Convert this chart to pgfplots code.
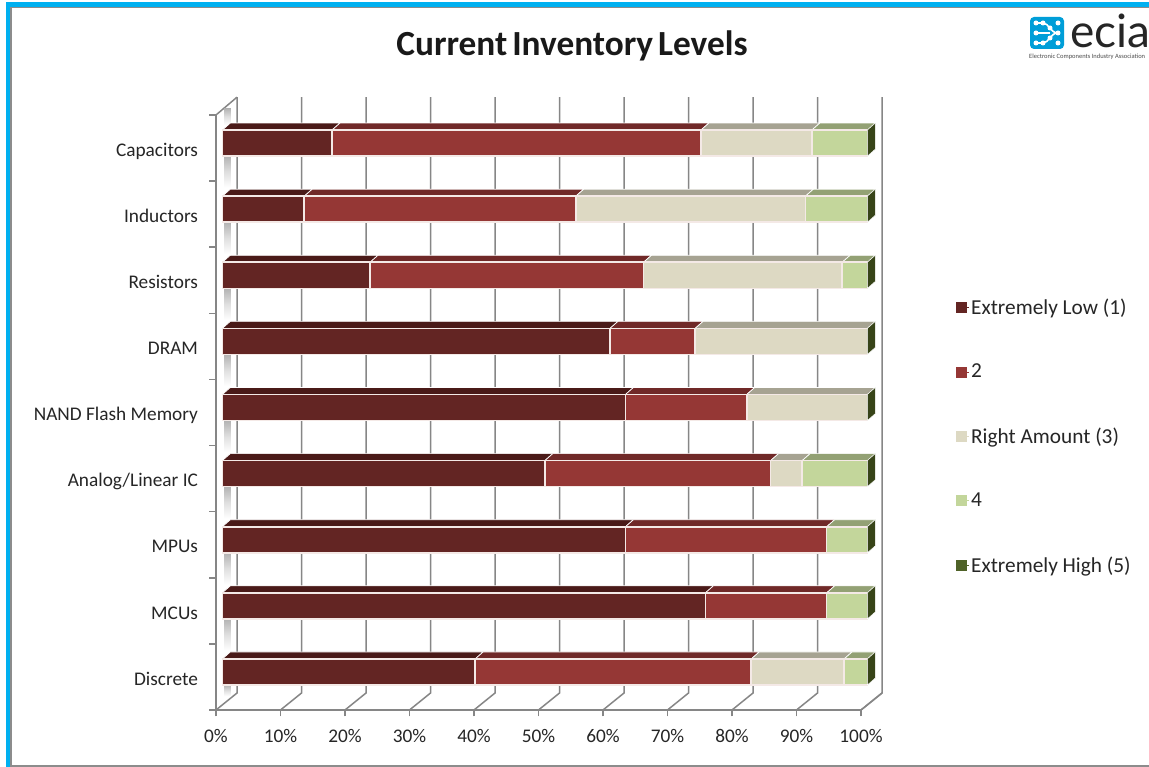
\documentclass[border=0pt]{standalone}
\usepackage{fontspec}
\usepackage{pgfplots}
\pgfplotsset{compat=1.18}
\setmainfont{Carlito}
\newfontfamily\logofont{Lato}

\definecolor{lowface}{HTML}{632523}
\definecolor{lowtop}{HTML}{4A1A18}
\definecolor{twoface}{HTML}{953735}
\definecolor{twotop}{HTML}{702928}
\definecolor{midface}{HTML}{DDD9C3}
\definecolor{midtop}{HTML}{A6A392}
\definecolor{fourface}{HTML}{C3D69B}
\definecolor{fourtop}{HTML}{93A174}
\definecolor{highface}{HTML}{4F6228}
\definecolor{highside}{HTML}{374418}
\definecolor{wallgray}{HTML}{868686}
\definecolor{framegray}{HTML}{8C8C8C}
\definecolor{frameblue}{HTML}{00B0F0}
\definecolor{edgelight}{HTML}{F4E9E6}

% bar geometry in axis units: 6.45 px per percent, 66.1 px per category
\newcommand{\barx}{0.98}
\newcommand{\barlow}{-0.122}
\newcommand{\barhigh}{0.272}
\newcommand{\depthx}{1.24}
\newcommand{\depthy}{0.106}

% one stacked segment: row, start, end, front colour, top colour
\newcommand{\segment}[5]{%
  \pgfmathsetmacro{\xa}{#2+\barx}%
  \pgfmathsetmacro{\xb}{#3+\barx}%
  \pgfmathsetmacro{\xc}{\xa+\depthx}%
  \pgfmathsetmacro{\xd}{\xb+\depthx}%
  \pgfmathsetmacro{\ya}{#1+\barlow}%
  \pgfmathsetmacro{\yb}{#1+\barhigh}%
  \pgfmathsetmacro{\yc}{\yb+\depthy}%
  \addplot[forget plot,fill=#5,draw=white,line width=0.7pt] coordinates {(\xa,\yb) (\xb,\yb) (\xd,\yc) (\xc,\yc)} --cycle;
  \addplot[forget plot,fill=#4,draw=edgelight,line width=1.6pt] coordinates {(\xa,\ya) (\xb,\ya) (\xb,\yb) (\xa,\yb)} --cycle;
}
% a whole bar from its five shares, lowest level first
\newcommand{\stackrow}[6]{%
  \pgfmathsetmacro{\cA}{#2}%
  \pgfmathsetmacro{\cB}{#2+#3}%
  \pgfmathsetmacro{\cC}{#2+#3+#4}%
  \pgfmathsetmacro{\cD}{#2+#3+#4+#5}%
  \pgfmathsetmacro{\cE}{#2+#3+#4+#5+#6}%
  \segment{#1}{0}{\cA}{lowface}{lowtop}%
  \segment{#1}{\cA}{\cB}{twoface}{twotop}%
  \ifdim #4pt>0pt \segment{#1}{\cB}{\cC}{midface}{midtop}\fi
  \ifdim #5pt>0pt \segment{#1}{\cC}{\cD}{fourface}{fourtop}\fi
  \pgfmathsetmacro{\xb}{\cE+\barx}%
  \pgfmathsetmacro{\xd}{\xb+\depthx}%
  \pgfmathsetmacro{\ya}{#1+\barlow}%
  \pgfmathsetmacro{\yb}{#1+\barhigh}%
  \pgfmathsetmacro{\yc}{\yb+\depthy}%
  \pgfmathsetmacro{\yd}{\ya+\depthy}%
  \addplot[forget plot,fill=highside,draw=white,line width=0.4pt] coordinates {(\xb,\ya) (\xd,\yd) (\xd,\yc) (\xb,\yb)} --cycle;
}
% back-wall gridline with its run across the floor
\newcommand{\gridat}[1]{%
  \pgfmathsetmacro{\gx}{#1+3.26}%
  \addplot[forget plot,wallgray,line width=1.5pt] coordinates {(#1,-0.5) (\gx,-0.243) (\gx,8.77)};
}
% soft shading on the left wall: lower edge, upper edge of the band
\newcommand{\wallshade}[2]{%
  \addplot[forget plot,draw=none,top color=gray!60,bottom color=white,middle color=gray!25] coordinates {(1.25,#1) (2.3,#1) (2.3,#2) (1.25,#2)} --cycle;
}

\begin{document}
\begin{tikzpicture}[x=1pt,y=1pt]
\path[use as bounding box] (0,0) rectangle (1149,767);
\fill[white] (0,0) rectangle (1149,767);
% slide frame
\fill[framegray] (10,0) rectangle (1149,2);
\fill[framegray] (10,759) rectangle (1149,761);
\fill[framegray] (10,2) rectangle (11.5,761);
\fill[frameblue] (6,0) rectangle (10,765);
\fill[frameblue] (6,760) rectangle (1149,765);

\begin{axis}[
  at={(216pt,57pt)}, anchor=south west,
  scale only axis, width=645pt, height=595pt,
  xmin=0, xmax=100, ymin=-0.5, ymax=8.5,
  clip=false,
  axis x line*=bottom, axis y line*=left,
  axis line style={wallgray,line width=1.5pt,-},
  tick align=outside, major tick length=6.5pt, minor tick length=7pt,
  xtick={0,10,...,100},
  xticklabel={\pgfmathprintnumber{\tick}\%},
  /pgf/number format/assume math mode=true,
  xticklabel style={font=\fontsize{19.3}{21}\selectfont,text=black!85,yshift=-9.5pt},
  xtick style={wallgray,line width=1.5pt},
  ytick={0,...,8},
  yticklabels={Discrete,MCUs,MPUs,Analog/Linear IC,NAND Flash Memory,DRAM,Resistors,Inductors,Capacitors},
  yticklabel style={font=\fontsize{19.3}{21}\selectfont,text=black!85,xshift=-8pt,yshift=-5.8pt,text height=0.68em,text depth=0.2em},
  major y tick style={draw=none},
  minor ytick={-0.5,0.5,...,8.5},
  minor y tick style={wallgray,line width=1.5pt},
  legend cell align=left,
  legend style={at={(1.1474,0.6941)},anchor=north west,draw=none,fill=none,
    font=\fontsize{21.3}{23}\selectfont,row sep=45.3pt,inner sep=0pt,
    nodes={inner sep=1.5pt,text=black!85}},
  legend image code/.code={\fill[#1] (0pt,-5pt) rectangle (10pt,5pt);\path (0pt,0pt) -- (13pt,0pt);},
]
% walls and floor
\gridat{0}\gridat{10}\gridat{20}\gridat{30}\gridat{40}\gridat{50}
\gridat{60}\gridat{70}\gridat{80}\gridat{90}\gridat{100}
\addplot[forget plot,wallgray,line width=1.5pt] coordinates {(0,8.5) (3.26,8.77)};
\addplot[forget plot,wallgray,line width=1.5pt] coordinates {(100,-0.5) (103.26,-0.243)};

\wallshade{8.35}{8.6}
\wallshade{7.40}{7.88}\wallshade{6.40}{6.88}\wallshade{5.40}{5.88}\wallshade{4.40}{4.88}
\wallshade{3.40}{3.88}\wallshade{2.40}{2.88}\wallshade{1.40}{1.88}\wallshade{0.40}{0.88}
\wallshade{-0.29}{-0.12}

% shares per category, lowest inventory level first
\stackrow{8}{17.0}{57.2}{17.2}{8.6}{0}
\stackrow{7}{12.7}{42.1}{35.6}{9.6}{0}
\stackrow{6}{22.9}{42.4}{30.8}{3.9}{0}
\stackrow{5}{60.1}{13.2}{26.7}{0}{0}
\stackrow{4}{62.5}{18.8}{18.7}{0}{0}
\stackrow{3}{50.0}{35.0}{4.9}{10.1}{0}
\stackrow{2}{62.5}{31.2}{0}{6.3}{0}
\stackrow{1}{74.9}{18.8}{0}{6.3}{0}
\stackrow{0}{39.2}{42.8}{14.4}{3.6}{0}

\addlegendimage{lowface}\addlegendentry{Extremely Low (1)}
\addlegendimage{twoface}\addlegendentry{2}
\addlegendimage{midface}\addlegendentry{Right Amount (3)}
\addlegendimage{fourface}\addlegendentry{4}
\addlegendimage{highface}\addlegendentry{Extremely High (5)}
\end{axis}

% title
\node[font=\fontsize{35.3}{38}\selectfont\bfseries,text=black!90] at (572,721.5) {\spaceskip=0.14em Current Inventory Levels};

% association logo
\fill[frameblue!90!black,rounded corners=4pt] (1030,718) rectangle (1064,750);
\foreach \px/\py in {1036/744,1036/734,1036/724,1043/744,1043/724,1050/739,1050/729,1058/744,1058/734,1058/724}
  \fill[white] (\px,\py) circle (2.5);
\draw[white,line width=1.6pt] (1043,744) .. controls (1049,744) and (1050,734) .. (1058,734);
\draw[white,line width=1.6pt] (1043,724) .. controls (1049,724) and (1050,734) .. (1058,734);
\draw[white,line width=1.6pt] (1036,744) -- (1043,744) (1036,724) -- (1043,724) (1036,734) -- (1050,734);
\node[anchor=base west,inner sep=0pt,font=\logofont\fontsize{46}{48}\selectfont,text=black!85] at (1070,719) {ecia};
\node[anchor=west,inner sep=0pt,font=\fontsize{6.5}{7}\selectfont,text=black!70] at (1029,710) {Electronic Components Industry Association};
\end{tikzpicture}
\end{document}
